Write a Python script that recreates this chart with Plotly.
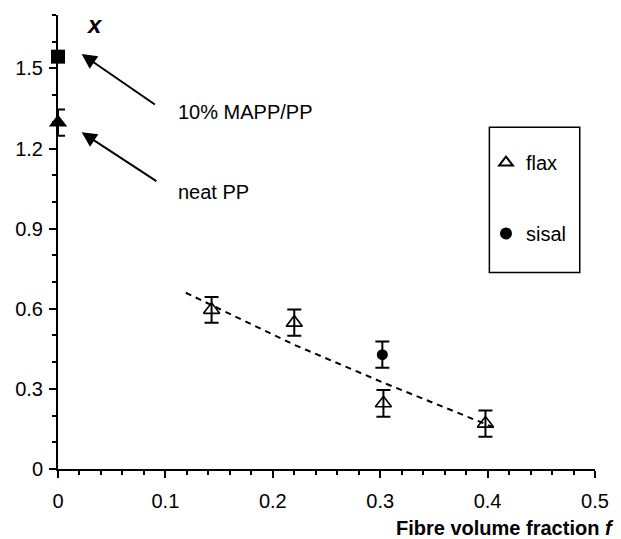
import plotly.graph_objects as go

# ---------------- data ----------------
flax_f = [0.143, 0.220, 0.303, 0.398]
flax_x = [0.596, 0.548, 0.246, 0.170]
flax_err = [0.048, 0.049, 0.050, 0.049]

sisal_f = [0.302]
sisal_x = [0.428]
sisal_err = [0.049]

neat_pp_f = [0.0]
neat_pp_x = [1.297]
neat_pp_err = [0.049]

mapp_pp_f = [0.0]
mapp_pp_x = [1.544]

fit_f = [0.119, 0.220, 0.302, 0.408]
fit_x = [0.660, 0.465, 0.325, 0.152]

x_tickvals = [0, 0.1, 0.2, 0.3, 0.4, 0.5]
x_ticktext = ["0", "0.1", "0.2", "0.3", "0.4", "0.5"]
y_tickvals = [0, 0.3, 0.6, 0.9, 1.2, 1.5]
y_ticktext = ["0", "0.3", "0.6", "0.9", "1.2", "1.5"]

FONT = "Liberation Sans, Arial, Helvetica, sans-serif"

fig = go.Figure()

# dashed trend line
fig.add_trace(go.Scatter(
    x=fit_f, y=fit_x, mode="lines", showlegend=False,
    line=dict(color="black", width=2, dash="6px,5px"), hoverinfo="skip"))

# flax
fig.add_trace(go.Scatter(
    x=flax_f, y=flax_x, mode="markers", name="flax", legendgroup="flax",
    marker=dict(symbol="triangle-up-open", size=14, color="black",
                line=dict(width=1.6, color="black")),
    error_y=dict(type="data", array=flax_err, visible=True, color="black",
                 thickness=2, width=7)))

# sisal
fig.add_trace(go.Scatter(
    x=sisal_f, y=sisal_x, mode="markers", name="sisal", legendgroup="sisal",
    marker=dict(symbol="circle", size=11, color="black"),
    error_y=dict(type="data", array=sisal_err, visible=True, color="black",
                 thickness=2, width=7)))

# neat PP
fig.add_trace(go.Scatter(
    x=neat_pp_f, y=neat_pp_x, mode="markers", name="neat PP", showlegend=False,
    cliponaxis=False,
    marker=dict(symbol="triangle-up", size=16, color="black"),
    error_y=dict(type="data", array=neat_pp_err, visible=True, color="black",
                 thickness=2, width=7)))

# 10% MAPP/PP
fig.add_trace(go.Scatter(
    x=mapp_pp_f, y=mapp_pp_x, mode="markers", name="10% MAPP/PP", showlegend=False,
    cliponaxis=False,
    marker=dict(symbol="square", size=14, color="black")))

axis_common = dict(
    showline=True, linecolor="black", linewidth=2,
    ticks="outside", ticklen=7, tickwidth=2, tickcolor="black",
    showgrid=False, zeroline=False,
    tickfont=dict(family=FONT, size=20, color="black"),
)

fig.update_layout(
    width=621, height=539,
    margin=dict(l=58, r=24, t=15, b=70),
    paper_bgcolor="white", plot_bgcolor="white",
    font=dict(family=FONT, color="black"),
    xaxis=dict(range=[0, 0.5], tickmode="array", tickvals=x_tickvals,
               ticktext=x_ticktext, ticklabelstandoff=6,
               minor=dict(dtick=0.02, tick0=0, ticks="outside", ticklen=4,
                          tickwidth=1.5, tickcolor="black", showgrid=False),
               **axis_common),
    yaxis=dict(range=[0, 1.7], tickmode="array", tickvals=y_tickvals,
               ticktext=y_ticktext, ticklabelstandoff=2,
               minor=dict(dtick=0.1, tick0=0, ticks="outside", ticklen=4,
                          tickwidth=1.5, tickcolor="black", showgrid=False),
               **axis_common),
    legend=dict(x=0.797, y=0.718, xanchor="left", yanchor="top",
                bgcolor="rgba(0,0,0,0)", borderwidth=0,
                font=dict(family=FONT, size=20, color="black"),
                itemsizing="constant", tracegroupgap=42),
    showlegend=True,
)

# legend frame
fig.add_shape(type="rect", xref="paper", yref="paper",
              x0=0.8033, x1=0.9716, y0=0.4328, y1=0.7528,
              line=dict(color="black", width=1.5), fillcolor="rgba(0,0,0,0)")

# axis titles
fig.add_annotation(text="<b>Fibre volume fraction <i>f</i></b>",
                   xref="paper", yref="paper", x=1.039, y=-0.13,
                   xanchor="right", yanchor="middle", showarrow=False,
                   font=dict(family=FONT, size=20, color="black"))
fig.add_annotation(text="<b><i>x</i></b>",
                   xref="paper", yref="paper", x=0.0686, y=0.978,
                   xanchor="center", yanchor="middle", showarrow=False,
                   font=dict(family=FONT, size=24, color="black"))

# labels with arrows
fig.add_annotation(text="10% MAPP/PP", x=0.110, y=1.335, xanchor="left",
                   yanchor="middle", showarrow=False,
                   font=dict(family=FONT, size=20, color="black"))
fig.add_annotation(text="neat PP", x=0.110, y=1.036, xanchor="left",
                   yanchor="middle", showarrow=False,
                   font=dict(family=FONT, size=20, color="black"))
fig.add_annotation(text="", x=0.022, y=1.554, ax=0.0916, ay=1.361,
                   axref="x", ayref="y", showarrow=True, arrowhead=2,
                   arrowsize=1.5, arrowwidth=2, arrowcolor="black")
fig.add_annotation(text="", x=0.022, y=1.261, ax=0.093, ay=1.074,
                   axref="x", ayref="y", showarrow=True, arrowhead=2,
                   arrowsize=1.5, arrowwidth=2, arrowcolor="black")

fig.write_html("out.html")
